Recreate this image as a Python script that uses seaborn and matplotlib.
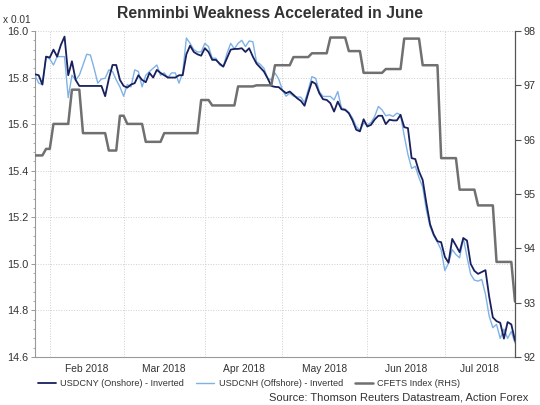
import numpy as np
import pandas as pd
import matplotlib
matplotlib.use("Agg")
import matplotlib.pyplot as plt
import seaborn as sns
from matplotlib.lines import Line2D
from matplotlib.ticker import MultipleLocator, FixedLocator, NullFormatter, FormatStrFormatter

# ---------------- data (business days 26 Jan 2018 - 27 Jul 2018) ----------------
start_date = "2018-01-26"
end_date = "2018-07-27"

usdcny_inverted = [
    15.814, 15.810, 15.770, 15.890, 15.886, 15.920, 15.890, 15.940, 15.976, 15.810,
    15.870, 15.790, 15.764, 15.764, 15.764, 15.764, 15.764, 15.764, 15.764, 15.720,
    15.795, 15.854, 15.854, 15.790, 15.764, 15.757, 15.770, 15.776, 15.810, 15.790,
    15.780, 15.820, 15.800, 15.833, 15.820, 15.810, 15.800, 15.800, 15.800, 15.810,
    15.810, 15.900, 15.937, 15.910, 15.900, 15.894, 15.926, 15.910, 15.876, 15.876,
    15.860, 15.847, 15.883, 15.920, 15.923, 15.923, 15.926, 15.910, 15.926, 15.890,
    15.860, 15.843, 15.826, 15.797, 15.764, 15.760, 15.759, 15.745, 15.733, 15.740,
    15.726, 15.711, 15.700, 15.679, 15.733, 15.783, 15.773, 15.733, 15.707, 15.704,
    15.690, 15.654, 15.697, 15.664, 15.661, 15.647, 15.616, 15.576, 15.569, 15.621,
    15.590, 15.597, 15.620, 15.636, 15.636, 15.600, 15.619, 15.616, 15.616, 15.640,
    15.587, 15.583, 15.454, 15.450, 15.397, 15.360, 15.260, 15.170, 15.126, 15.097,
    15.093, 15.030, 15.005, 15.107, 15.079, 15.050, 15.111, 15.100, 15.000, 14.970,
    14.957, 14.965, 14.973, 14.860, 14.770, 14.754, 14.747, 14.679, 14.750, 14.740,
    14.670,
]

usdcnh_inverted = [
    15.810, 15.776, 15.770, 15.890, 15.880, 15.854, 15.890, 15.890, 15.890, 15.714,
    15.810, 15.790, 15.810, 15.854, 15.900, 15.897, 15.840, 15.776, 15.794, 15.797,
    15.833, 15.826, 15.790, 15.760, 15.720, 15.770, 15.760, 15.833, 15.826, 15.760,
    15.810, 15.826, 15.840, 15.854, 15.810, 15.820, 15.800, 15.820, 15.820, 15.776,
    15.820, 15.970, 15.947, 15.920, 15.910, 15.910, 15.947, 15.933, 15.883, 15.883,
    15.854, 15.847, 15.904, 15.947, 15.923, 15.947, 15.960, 15.933, 15.957, 15.954,
    15.867, 15.857, 15.840, 15.797, 15.790, 15.820, 15.794, 15.747, 15.720, 15.733,
    15.720, 15.716, 15.716, 15.693, 15.747, 15.804, 15.797, 15.740, 15.719, 15.719,
    15.719, 15.704, 15.740, 15.669, 15.665, 15.650, 15.626, 15.590, 15.573, 15.604,
    15.597, 15.607, 15.633, 15.676, 15.661, 15.636, 15.640, 15.633, 15.647, 15.640,
    15.550, 15.470, 15.410, 15.419, 15.370, 15.330, 15.230, 15.160, 15.120, 15.093,
    15.060, 14.971, 15.004, 15.061, 15.040, 15.026, 15.111, 15.030, 14.955, 14.930,
    14.926, 14.933, 14.870, 14.776, 14.726, 14.740, 14.680, 14.720, 14.680, 14.710,
    14.660,
]

cfets_index = [
    95.71, 95.71, 95.71, 95.83, 95.83,
    96.29, 96.29, 96.29, 96.29, 96.29,
    96.92, 96.92, 96.92, 96.12, 96.12, 96.12, 96.12, 96.12, 96.12, 96.12,
    95.80, 95.80, 95.80, 96.44, 96.44,
    96.29, 96.29, 96.29, 96.29, 96.29,
    95.96, 95.96, 95.96, 95.96, 95.96,
    96.12, 96.12, 96.12, 96.12, 96.12, 96.12, 96.12, 96.12, 96.12, 96.12,
    96.73, 96.73, 96.73, 96.63, 96.63, 96.63, 96.63, 96.63, 96.63, 96.63,
    96.98, 96.98, 96.98, 96.98, 96.98,
    97.00, 97.00, 97.00, 97.00, 97.00,
    97.37, 97.37, 97.37, 97.37, 97.37,
    97.52, 97.52, 97.52, 97.52, 97.52,
    97.59, 97.59, 97.59, 97.59, 97.59,
    97.88, 97.88, 97.88, 97.88, 97.88,
    97.63, 97.63, 97.63, 97.63,
    97.23, 97.23, 97.23, 97.23, 97.23, 97.23,
    97.30, 97.30, 97.30, 97.30, 97.30,
    97.86, 97.86, 97.86, 97.86, 97.86,
    97.37, 97.37, 97.37, 97.37, 97.37,
    95.66, 95.66, 95.66, 95.66, 95.66,
    95.08, 95.08, 95.08, 95.08, 95.08,
    94.79, 94.79, 94.79, 94.79, 94.79,
    93.75, 93.75, 93.75, 93.75, 93.75,
    93.02,
]

month_labels = ["Feb 2018", "Mar 2018", "Apr 2018", "May 2018", "Jun 2018", "Jul 2018"]
left_ticks = [14.6, 14.8, 15.0, 15.2, 15.4, 15.6, 15.8, 16.0]
right_ticks = [92, 93, 94, 95, 96, 97, 98]
series_names = ["USDCNY (Onshore) - Inverted", "USDCNH (Offshore) - Inverted", "CFETS Index (RHS)"]

title = "Renminbi Weakness Accelerated in June"
source = "Source: Thomson Reuters Datastream, Action Forex"
unit_label = "x 0.01"

# ---------------- build frame ----------------
dates = pd.bdate_range(start_date, end_date)
df = pd.DataFrame({
    "date": dates,
    "day": np.arange(len(dates)),
    "cny": usdcny_inverted,
    "cnh": usdcnh_inverted,
    "cfets": cfets_index,
})
month_starts = [i for i in range(1, len(dates)) if dates[i].month != dates[i - 1].month]
bounds = month_starts + [len(dates) - 1]
label_pos = [(bounds[k] + bounds[k + 1]) / 2 for k in range(len(month_starts))]

# ---------------- style ----------------
sns.set_style("white")
plt.rcParams["font.family"] = ["Liberation Sans", "DejaVu Sans"]
txt = "#333333"
c_cny = "#18205e"
c_cnh = "#7fb2e5"
c_cfets = "#707070"
grid_c = "#cfcfcf"

W, H = 540, 405
fig = plt.figure(figsize=(W / 100, H / 100), dpi=100)
L, R, T, B = 35, 515, 31, 357
ax = fig.add_axes([L / W, 1 - B / H, (R - L) / W, (B - T) / H])
ax2 = ax.twinx()

sns.lineplot(data=df, x="day", y="cny", ax=ax, color=c_cny, lw=1.3, zorder=4)
sns.lineplot(data=df, x="day", y="cnh", ax=ax, color=c_cnh, lw=1.0, zorder=3)
sns.lineplot(data=df, x="day", y="cfets", ax=ax2, color=c_cfets, lw=1.8, zorder=2)

ax.set_xlim(0, len(dates) - 1)
ax.set_ylim(14.6, 16.0)
ax2.set_ylim(92, 98)
ax.set_xlabel("")
ax.set_ylabel("")
ax2.set_ylabel("")

# x axis
ax.xaxis.set_major_locator(FixedLocator(month_starts))
ax.xaxis.set_major_formatter(NullFormatter())
ax.xaxis.set_minor_locator(MultipleLocator(1))
ax.tick_params(axis="x", which="major", length=3, width=0.6, color="#888888", direction="out")
ax.tick_params(axis="x", which="minor", length=1.8, width=0.5, color="#888888", direction="out")
for p, lab in zip(label_pos, month_labels):
    ax.text(p, -0.022, lab, transform=ax.get_xaxis_transform(), ha="center", va="top",
            fontsize=7.4, color=txt)

# left axis
ax.yaxis.set_major_locator(FixedLocator(left_ticks))
ax.yaxis.set_major_formatter(FormatStrFormatter("%.1f"))
ax.yaxis.set_minor_locator(MultipleLocator(0.04))
ax.tick_params(axis="y", which="major", length=3, width=0.6, color="#888888", labelsize=7.8,
               labelcolor=txt, pad=2)
ax.tick_params(axis="y", which="minor", length=1.8, width=0.5, color="#888888")

# right axis
ax2.yaxis.set_major_locator(FixedLocator(right_ticks))
ax2.tick_params(axis="y", which="major", length=4, width=0.8, color="#555555", labelsize=7.8,
                labelcolor=txt, pad=2)

# grid
ax.grid(True, axis="both", which="major", color=grid_c, lw=0.7, ls=":")
ax.set_axisbelow(True)

ax.spines["top"].set_visible(False)
ax2.spines["top"].set_visible(False)
ax.spines["left"].set_color("#999999")
ax.spines["left"].set_linewidth(0.8)
ax.spines["bottom"].set_color("#999999")
ax.spines["bottom"].set_linewidth(0.8)
ax2.spines["left"].set_visible(False)
ax2.spines["bottom"].set_visible(False)
ax2.spines["right"].set_color("#555555")
ax2.spines["right"].set_linewidth(0.9)
ax.spines["right"].set_visible(False)

# texts
fig.text(0.5, 1 - 14 / H, title, ha="center", va="center", fontsize=11.3,
         fontweight="bold", color=txt)
fig.text(3 / W, 1 - 20 / H, unit_label, ha="left", va="center", fontsize=7.3, color=txt)
fig.text(528 / W, 1 - 397 / H, source, ha="right", va="center", fontsize=8.0, color=txt)

handles = [Line2D([], [], color=c_cny, lw=1.3),
           Line2D([], [], color=c_cnh, lw=1.0),
           Line2D([], [], color=c_cfets, lw=1.8)]
fig.legend(handles, series_names, loc="center", bbox_to_anchor=(249 / W, 1 - 384 / H),
           ncol=3, frameon=False, fontsize=6.6, handlelength=2.0, handletextpad=0.45,
           columnspacing=1.3, labelcolor=txt, borderaxespad=0, borderpad=0)

fig.savefig("out.png", dpi=100)
